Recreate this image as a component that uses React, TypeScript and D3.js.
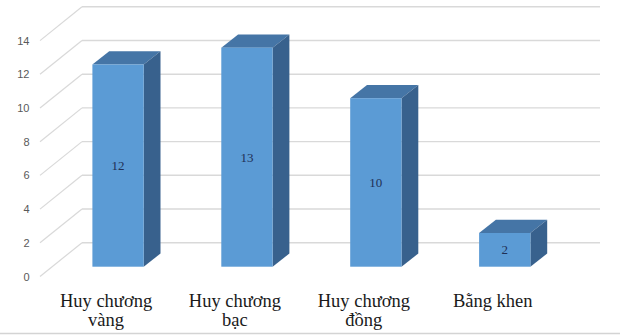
import React from "react";
import * as d3 from "d3";

const categories: string[][] = [
  ["Huy chương", "vàng"],
  ["Huy chương", "bạc"],
  ["Huy chương", "đồng"],
  ["Bằng khen"],
];
const values: number[] = [12, 13, 10, 2];
const yTicks: number[] = [0, 2, 4, 6, 8, 10, 12, 14];

const W = 620;
const H = 335;

export default function App() {
  // depth of the wall/floor (from front plane to back wall)
  const wallDx = 42;
  const wallDy = -33.8;
  // depth of bar (front face sits this far behind the front plane)
  const barOffDx = 12;
  const barOffDy = -9.8;
  const barDx = 16.8;
  const barDy = -13.2;

  const frontY = d3.scaleLinear().domain([0, 14]).range([276.5, 276.5 - 14 * 16.85]);
  const backY = (v: number) => frontY(v) + wallDy;
  const barY = (v: number) => frontY(v) + barOffDy;

  const x = d3
    .scaleBand<number>()
    .domain(d3.range(values.length))
    .range([41.6, 557.2])
    .padding(0);
  const barW = 51.3;
  const xFrontCenter = (i: number) => (x(i) as number) + x.bandwidth() / 2;

  const axisLeft = 40;
  const backRight = 600;

  return (
    <svg
      width={W}
      height={H}
      style={{ position: "fixed", left: 0, top: 0, background: "#fff" }}
    >
      <rect x={0} y={0} width={W} height={H} fill="#fff" />
      {/* gridlines */}
      {yTicks.map((t) => (
        <g key={t}>
          <line
            x1={axisLeft}
            y1={frontY(t)}
            x2={axisLeft + wallDx}
            y2={backY(t)}
            stroke="#d9d9d9"
            strokeWidth={1.2}
          />
          <line
            x1={axisLeft + wallDx}
            y1={backY(t)}
            x2={backRight}
            y2={backY(t)}
            stroke="#d9d9d9"
            strokeWidth={1.4}
          />
          <text
            x={29.5}
            y={frontY(t)}
            textAnchor="end"
            dominantBaseline="central"
            fontFamily="'Liberation Sans', Arial, sans-serif"
            fontSize={11}
            fill="#595959"
          >
            {t}
          </text>
        </g>
      ))}
      {/* bars */}
      {values.map((v, i) => {
        const cx = xFrontCenter(i) + barOffDx;
        const x0 = cx - barW / 2;
        const x1 = cx + barW / 2;
        const top = barY(v);
        const bottom = barY(0);
        return (
          <g key={i}>
            <polygon
              points={`${x0},${top} ${x0 + barDx},${top + barDy} ${x1 + barDx},${top + barDy} ${x1},${top}`}
              fill="#4575a6"
            />
            <polygon
              points={`${x1},${top} ${x1 + barDx},${top + barDy} ${x1 + barDx},${bottom + barDy} ${x1},${bottom}`}
              fill="#38618d"
            />
            <rect x={x0} y={top} width={barW} height={bottom - top} fill="#5b9bd5" />
            <text
              x={cx}
              y={(top + bottom) / 2}
              textAnchor="middle"
              dominantBaseline="central"
              fontFamily="'Liberation Serif', 'Times New Roman', serif"
              fontSize={13}
              fill="#1f3056"
            >
              {v}
            </text>
          </g>
        );
      })}
      {/* category labels */}
      {categories.map((lines, i) => (
        <text
          key={i}
          x={xFrontCenter(i)}
          y={306.5}
          textAnchor="middle"
          fontFamily="'Liberation Serif', 'Times New Roman', serif"
          fontSize={18.5}
          fill="#1a1a1a"
        >
          {lines.map((l, j) => (
            <tspan key={j} x={xFrontCenter(i)} dy={j === 0 ? 0 : 19.5}>
              {l}
            </tspan>
          ))}
        </text>
      ))}
      <line x1={0} y1={333.5} x2={W} y2={333.5} stroke="#d4d4d4" strokeWidth={1.5} />
    </svg>
  );
}
